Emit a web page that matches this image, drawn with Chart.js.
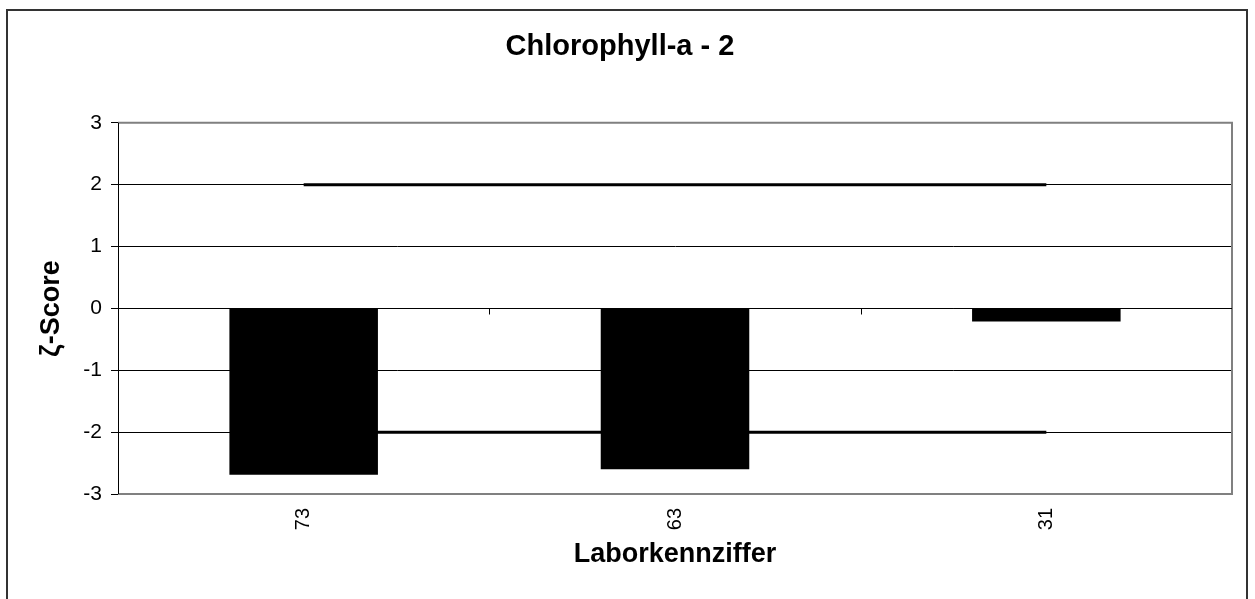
<!DOCTYPE html>
<html>
<head>
<meta charset="utf-8">
<script src="https://cdn.jsdelivr.net/npm/chart.js@4/dist/chart.umd.min.js"></script>
<style>
  html, body { margin:0; padding:0; background:#fff; overflow:hidden; }
  #wrap { position:relative; width:1255px; height:599px; }
  #frame { position:absolute; left:6px; top:9px; width:1242px; height:620px;
           border:2px solid #333; box-sizing:border-box; pointer-events:none; }
  canvas { position:absolute; left:0; top:0; }
</style>
</head>
<body>
<div id="wrap">
  <canvas id="c" width="1255" height="599"></canvas>
  <div id="frame"></div>
</div>
<script>
// data
const labs = ['73', '63', '31'];
const zScores = [-2.69, -2.60, -0.21];
const upperLimit = [2, 2, 2];
const lowerLimit = [-2, -2, -2];
const yTicks = [-3, -2, -1, 0, 1, 2, 3];

const FONT = '"Liberation Sans", Arial, sans-serif';

// plot frame + x axis at zero with small tick marks between categories
const framePlugin = {
  id: 'frame',
  afterDatasetsDraw(chart){
    const {ctx, chartArea:a, scales:{x, y}} = chart;
    ctx.save();
    ctx.strokeStyle = '#808080';
    ctx.lineWidth = 2;
    ctx.beginPath();
    ctx.moveTo(a.left, a.top);
    ctx.lineTo(a.right, a.top);
    ctx.lineTo(a.right, a.bottom);
    ctx.lineTo(a.left, a.bottom);
    ctx.stroke();
    const y0 = Math.round(y.getPixelForValue(0)) + 0.5;
    ctx.strokeStyle = '#000';
    ctx.lineWidth = 1;
    ctx.beginPath();
    ctx.moveTo(a.left, y0); ctx.lineTo(a.right, y0);
    for(let i=1;i<labs.length;i++){
      const bx = Math.round((x.getPixelForValue(i-1) + x.getPixelForValue(i))/2) + 0.5;
      ctx.moveTo(bx, y0); ctx.lineTo(bx, y0 + 6);
    }
    ctx.stroke();
    // y axis line
    ctx.beginPath();
    ctx.moveTo(a.left + 0.5, a.top); ctx.lineTo(a.left + 0.5, a.bottom);
    ctx.stroke();
    ctx.restore();
  }
};

new Chart(document.getElementById('c'), {
  type: 'bar',
  data: {
    labels: labs,
    datasets: [
      { type:'bar', data: zScores, backgroundColor:'#000', borderColor:'#000', borderWidth:0,
        barPercentage:0.4, categoryPercentage:1, order:1 },
      { type:'line', data: upperLimit, borderColor:'#000', borderWidth:3, pointRadius:0, fill:false, order:2 },
      { type:'line', data: lowerLimit, borderColor:'#000', borderWidth:3, pointRadius:0, fill:false, order:2 }
    ]
  },
  options: {
    responsive:false,
    animation:false,
    events:[],
    layout:{ padding:{ left:8, right:23, top:9, bottom:20 } },
    plugins:{
      legend:{ display:false },
      tooltip:{ enabled:false },
      title:{
        display:true, text:'Chlorophyll-a - 2', color:'#000',
        font:{ family:FONT, size:29, weight:'bold' },
        padding:{ top:21, bottom:58 }
      }
    },
    scales:{
      x:{
        offset:true,
        grid:{ display:false, drawTicks:false },
        border:{ display:false },
        ticks:{ color:'#000', font:{ family:FONT, size:20 }, minRotation:90, maxRotation:90, padding:14 },
        title:{ display:true, text:'Laborkennziffer', color:'#000',
                font:{ family:FONT, size:27, weight:'bold' }, padding:{ top:0, bottom:8 } },
        afterFit(s){ s.height = 85; }
      },
      y:{
        min:-3, max:3,
        afterBuildTicks(s){ s.ticks = yTicks.map(v => ({ value:v })); },
        grid:{ color: c => (c.tick && Math.abs(c.tick.value) === 3) ? '#808080' : '#000',
               lineWidth:1, tickLength:7, tickColor:'#000' },
        border:{ display:true, color:'#000', width:1 },
        ticks:{ color:'#000', font:{ family:FONT, size:21 }, padding:9 },
        title:{ display:true, text:'ζ-Score', color:'#000',
                font:{ family:FONT, size:27, weight:'bold' }, padding:{ top:27, bottom:0 } },
        afterFit(s){ s.width = 110; }
      }
    }
  },
  plugins:[framePlugin]
});
</script>
</body>
</html>
